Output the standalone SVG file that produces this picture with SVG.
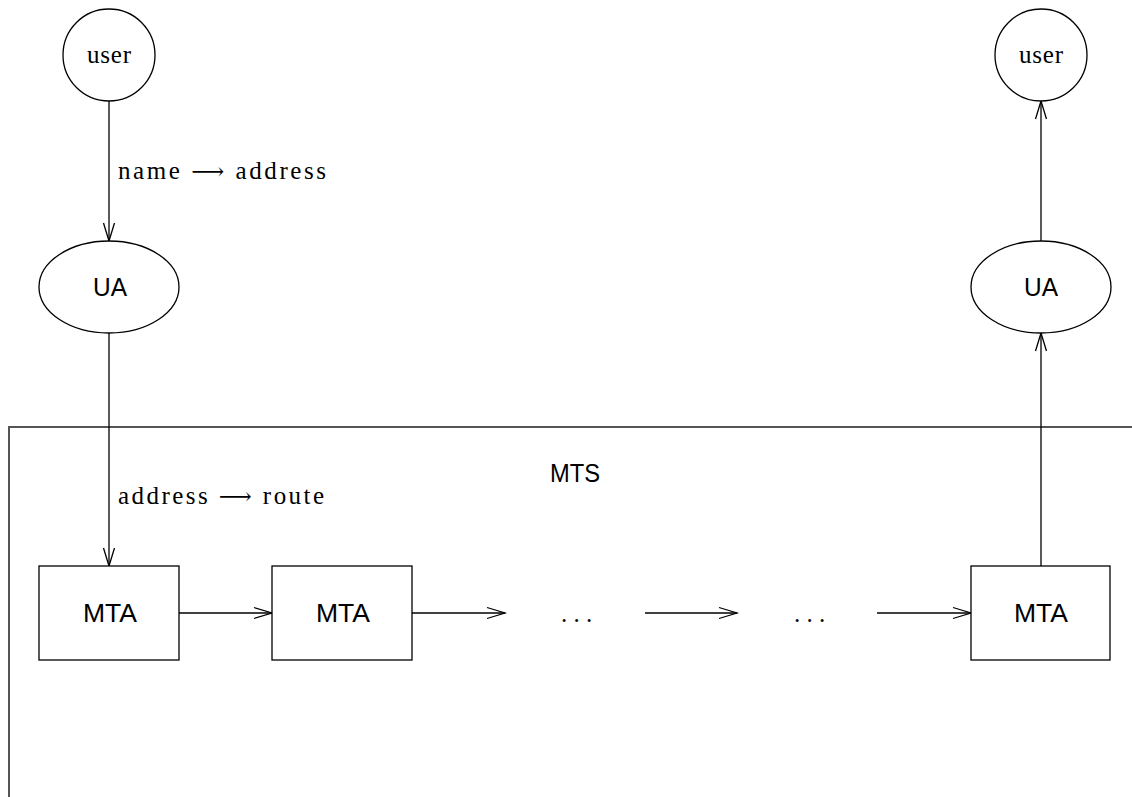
<svg xmlns="http://www.w3.org/2000/svg" width="1132" height="797" viewBox="0 0 1132 797">
  <style>
    .shape { fill: #fff; stroke: #000; stroke-width: 1.3; }
    .frame { fill: none; stroke: #555; stroke-width: 2; }
    .edge { fill: none; stroke: #000; stroke-width: 1.3; marker-end: url(#vee); }
    .serif { font-family: "Liberation Serif", "DejaVu Serif", serif; font-size: 25px; fill: #000; }
    .sans { font-family: "Liberation Sans", "DejaVu Sans", sans-serif; font-size: 26px; fill: #000; }
    .arr { font-family: "DejaVu Serif", serif; font-size: 23px; }
  </style>
  <defs>
    <marker id="vee" markerUnits="userSpaceOnUse" markerWidth="22" markerHeight="14" refX="18" refY="6" orient="auto" overflow="visible">
      <path d="M0,0.5 L18,6 L0,11.5" fill="none" stroke="#000" stroke-width="1.3"/>
    </marker>
  </defs>

  <!-- message transfer system boundary -->
  <g id="mts">
    <path class="frame" d="M9,797 L9,427 L1132,427"/>
    <text class="sans" x="550" y="482" textLength="50" lengthAdjust="spacingAndGlyphs">MTS</text>
  </g>

  <g id="connectors">
    <line class="edge" x1="109" y1="101" x2="109" y2="241"/>
    <line class="edge" x1="109" y1="333" x2="109" y2="566"/>
    <line class="edge" x1="179" y1="613" x2="272" y2="613"/>
    <line class="edge" x1="412" y1="613" x2="505" y2="613"/>
    <line class="edge" x1="645" y1="613" x2="737" y2="613"/>
    <line class="edge" x1="877" y1="613" x2="971" y2="613"/>
    <line class="edge" x1="1041" y1="566" x2="1041" y2="333"/>
    <line class="edge" x1="1041" y1="241" x2="1041" y2="101"/>
    <text class="serif" x="118" y="179" textLength="208" lengthAdjust="spacing">name <tspan class="arr">⟶</tspan> address</text>
    <text class="serif" x="118" y="504" textLength="206" lengthAdjust="spacing">address <tspan class="arr">⟶</tspan> route</text>
  </g>

  <g id="user-sender">
    <circle class="shape" cx="109" cy="55" r="46"/>
    <text class="serif" x="87" y="63" textLength="44" lengthAdjust="spacing">user</text>
  </g>
  <g id="ua-sender">
    <ellipse class="shape" cx="109" cy="287" rx="70" ry="46"/>
    <text class="sans" x="93" y="296" textLength="34" lengthAdjust="spacingAndGlyphs">UA</text>
  </g>
  <g id="mta-1">
    <rect class="shape" x="39" y="566" width="140" height="94"/>
    <text class="sans" x="83" y="622" textLength="54" lengthAdjust="spacingAndGlyphs">MTA</text>
  </g>
  <g id="mta-2">
    <rect class="shape" x="272" y="566" width="140" height="94"/>
    <text class="sans" x="316" y="622" textLength="54" lengthAdjust="spacingAndGlyphs">MTA</text>
  </g>
  <g id="dots-1">
    <text class="serif" x="561 573.5 586" y="622">...</text>
  </g>
  <g id="dots-2">
    <text class="serif" x="794 806.5 819" y="622">...</text>
  </g>
  <g id="mta-n">
    <rect class="shape" x="971" y="566" width="139" height="94"/>
    <text class="sans" x="1014" y="622" textLength="54" lengthAdjust="spacingAndGlyphs">MTA</text>
  </g>
  <g id="ua-recipient">
    <ellipse class="shape" cx="1041" cy="287" rx="70" ry="46"/>
    <text class="sans" x="1024" y="296" textLength="34" lengthAdjust="spacingAndGlyphs">UA</text>
  </g>
  <g id="user-recipient">
    <circle class="shape" cx="1041" cy="55" r="46"/>
    <text class="serif" x="1019" y="63" textLength="44" lengthAdjust="spacing">user</text>
  </g>
</svg>
